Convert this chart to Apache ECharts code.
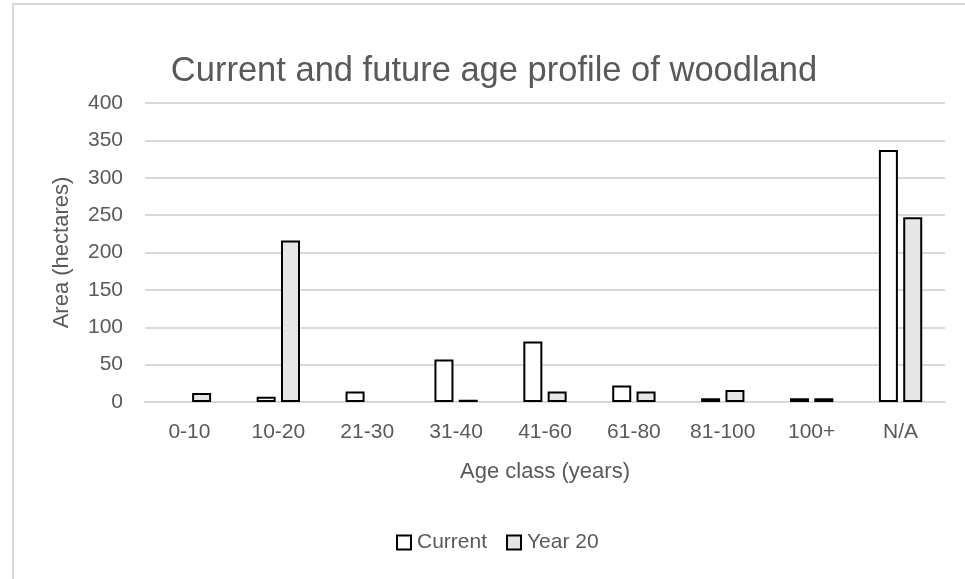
<!DOCTYPE html>
<html>
<head>
<meta charset="utf-8">
<script src="https://cdn.jsdelivr.net/npm/echarts@6/dist/echarts.min.js"></script>
<style>html,body{margin:0;padding:0;background:#fff;}#c{width:965px;height:579px;}</style>
</head>
<body>
<div id="c"></div>
<script>
const categories = ['0-10','10-20','21-30','31-40','41-60','61-80','81-100','100+','N/A'];
const currentValues = [null, 7, 14, 57, 81, 22, 5, 5, 337];
const year20Values = [12, 216, null, 3, 14, 14, 16, 5, 247];
const yTicks = {min: 0, max: 400, interval: 50};

const FONT = 'Liberation Sans';
const TXT = '#595959';
const chart = echarts.init(document.getElementById('c'));
chart.setOption({
  animation: false,
  backgroundColor: '#fff',
  textStyle: {fontFamily: FONT},
  graphic: [
    {type: 'rect', shape: {x: 13, y: 4, width: 2000, height: 2000}, style: {fill: 'none', stroke: '#d9d9d9', lineWidth: 2}, silent: true},
    {type: 'text', x: 494, y: 71, style: {text: 'Current and future age profile of woodland', fontFamily: FONT, fontSize: 34.5, fill: TXT, align: 'center', verticalAlign: 'middle'}}
  ],
  legend: {
    bottom: 21,
    left: 391,
    itemWidth: 14, itemHeight: 14, itemGap: 19,
    icon: 'rect',
    itemStyle: {borderColor: '#000', borderWidth: 2},
    textStyle: {color: TXT, fontSize: 21, fontFamily: FONT, padding: [0,0,0,1]},
    data: ['Current', 'Year 20']
  },
  grid: {left: 145, right: 20, top: 103, bottom: 177},
  xAxis: {
    type: 'category',
    data: categories,
    axisLine: {lineStyle: {color: '#d9d9d9', width: 2}},
    axisTick: {show: false},
    axisLabel: {color: TXT, fontSize: 21, margin: 20, fontFamily: FONT},
    name: 'Age class (years)',
    nameLocation: 'middle',
    nameGap: 70,
    nameTextStyle: {color: TXT, fontSize: 22, fontFamily: FONT, verticalAlign: 'middle'}
  },
  yAxis: {
    type: 'value',
    min: yTicks.min, max: yTicks.max, interval: yTicks.interval,
    axisLine: {show: false},
    axisTick: {show: false},
    splitLine: {lineStyle: {color: '#d9d9d9', width: 2}},
    axisLabel: {color: TXT, fontSize: 21, margin: 22, fontFamily: FONT},
    name: 'Area (hectares)',
    nameLocation: 'middle',
    nameRotate: 90,
    nameGap: 83,
    nameTextStyle: {color: TXT, fontSize: 22, fontFamily: FONT, verticalAlign: 'middle'}
  },
  series: [
    {name: 'Current', type: 'bar', data: currentValues, barWidth: 19, barGap: '28%',
     itemStyle: {color: '#ffffff', borderColor: '#000', borderWidth: 2}},
    {name: 'Year 20', type: 'bar', data: year20Values, barWidth: 19,
     itemStyle: {color: '#e6e6e6', borderColor: '#000', borderWidth: 2}}
  ]
});
</script>
</body>
</html>
